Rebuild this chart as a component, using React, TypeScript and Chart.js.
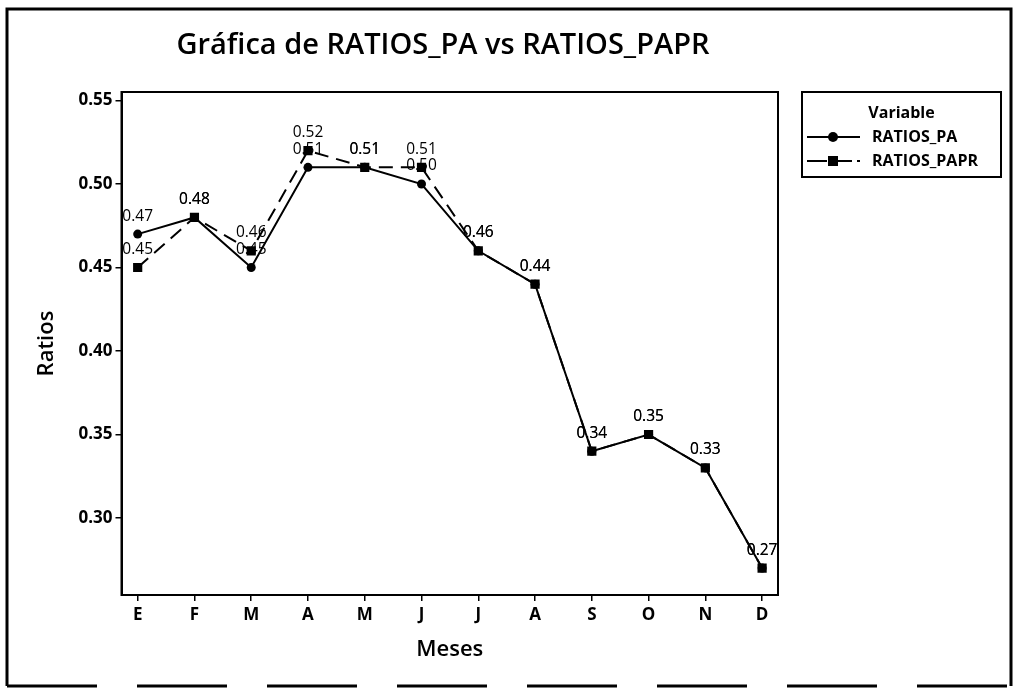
import React, { useEffect, useRef } from "react";
import { Chart, registerables } from "chart.js";

Chart.register(...registerables);

const months = ["E", "F", "M", "A", "M", "J", "J", "A", "S", "O", "N", "D"];
const ratiosPA = [0.47, 0.48, 0.45, 0.51, 0.51, 0.5, 0.46, 0.44, 0.34, 0.35, 0.33, 0.27];
const ratiosPAPR = [0.45, 0.48, 0.46, 0.52, 0.51, 0.51, 0.46, 0.44, 0.34, 0.35, 0.33, 0.27];
const yTicks = [0.3, 0.35, 0.4, 0.45, 0.5, 0.55];
const seriesNames = ["RATIOS_PA", "RATIOS_PAPR"];
const titleText = "Gráfica de RATIOS_PA vs RATIOS_PAPR";
const xTitle = "Meses";
const yTitle = "Ratios";
const legendTitle = "Variable";

const FONT = '"Open Sans", "Noto Sans", "DejaVu Sans", sans-serif';
const W = 1017;
const H = 688;

const decoPlugin = {
  id: "deco",
  beforeDraw(chart: any) {
    const ctx = chart.ctx;
    ctx.save();
    ctx.fillStyle = "#fff";
    ctx.fillRect(0, 0, chart.width, chart.height);
    ctx.restore();
  },
  afterDatasetsDraw(chart: any) {
    const ctx = chart.ctx;
    ctx.save();
    ctx.fillStyle = "#000";
    ctx.font = `500 15.5px ${FONT}`;
    ctx.textAlign = "center";
    ctx.textBaseline = "middle";
    chart.data.datasets.forEach((ds: any, di: number) => {
      const meta = chart.getDatasetMeta(di);
      meta.data.forEach((pt: any, i: number) => {
        const v = ds.data[i].y;
        ctx.fillText(v.toFixed(2), pt.x, pt.y - 18);
      });
    });
    ctx.restore();
  },
  afterDraw(chart: any) {
    const ctx = chart.ctx;
    const a = chart.chartArea;
    ctx.save();
    // plot border
    ctx.strokeStyle = "#000";
    ctx.lineWidth = 2;
    ctx.strokeRect(a.left, a.top, a.right - a.left, a.bottom - a.top);

    // outer frame
    ctx.lineWidth = 3;
    ctx.beginPath();
    ctx.moveTo(7, 686);
    ctx.lineTo(7, 9);
    ctx.lineTo(1011, 9);
    ctx.lineTo(1011, 686);
    ctx.stroke();
    ctx.setLineDash([90, 40]);
    ctx.beginPath();
    ctx.moveTo(7, 686);
    ctx.lineTo(1011, 686);
    ctx.stroke();
    ctx.setLineDash([]);

    ctx.fillStyle = "#000";
    // title
    ctx.font = `600 29px ${FONT}`;
    ctx.textAlign = "center";
    ctx.textBaseline = "middle";
    ctx.fillText(titleText, 443, 46);

    // axis titles
    ctx.font = `600 22px ${FONT}`;
    ctx.fillText(xTitle, (a.left + a.right) / 2, 650);
    ctx.save();
    ctx.translate(47, (a.top + a.bottom) / 2);
    ctx.rotate(-Math.PI / 2);
    ctx.fillText(yTitle, 0, 0);
    ctx.restore();

    // legend
    const lx = 802, ly = 92, lw = 199, lh = 85;
    ctx.lineWidth = 2;
    ctx.strokeRect(lx, ly, lw, lh);
    ctx.font = `700 16px ${FONT}`;
    ctx.fillText(legendTitle, lx + lw / 2, 113);
    const rows = [137, 161];
    rows.forEach((ry, i) => {
      ctx.lineWidth = 2;
      if (i === 1) ctx.setLineDash([20, 5]);
      ctx.beginPath();
      ctx.moveTo(807, ry);
      ctx.lineTo(860, ry);
      ctx.stroke();
      ctx.setLineDash([]);
      if (i === 0) {
        ctx.beginPath();
        ctx.arc(833, ry, 5, 0, Math.PI * 2);
        ctx.fill();
      } else {
        ctx.fillRect(828, ry - 5, 10, 10);
      }
      ctx.textAlign = "left";
      ctx.fillText(seriesNames[i], 872, ry);
      ctx.textAlign = "center";
    });
    ctx.restore();
  },
};

export default function App() {
  const ref = useRef<HTMLCanvasElement | null>(null);
  useEffect(() => {
    document.body.style.margin = "0";
    const canvas = ref.current!;
    const tickFont = { family: FONT, size: 17, weight: 700 as any };
    const chart = new Chart(canvas, {
      type: "line",
      data: {
        datasets: [
          {
            label: seriesNames[0],
            data: ratiosPA.map((v, i) => ({ x: i, y: v })),
            borderColor: "#000",
            backgroundColor: "#000",
            borderWidth: 2,
            pointStyle: "circle",
            pointRadius: 4.5,
            pointBorderWidth: 0,
            tension: 0,
          },
          {
            label: seriesNames[1],
            data: ratiosPAPR.map((v, i) => ({ x: i, y: v })),
            borderColor: "#000",
            backgroundColor: "#000",
            borderWidth: 2,
            borderDash: [14, 8],
            pointStyle: "rect",
            pointRadius: 6.5,
            pointBorderWidth: 0,
            tension: 0,
          },
        ],
      },
      options: {
        responsive: false,
        animation: false,
        events: [],
        layout: { padding: { left: 0, top: 92, right: W - 778, bottom: 0 } },
        plugins: { legend: { display: false }, title: { display: false }, tooltip: { enabled: false } },
        scales: {
          x: {
            type: "linear",
            min: -0.285,
            max: 11.28,
            afterBuildTicks: (s: any) => {
              s.ticks = months.map((_, i) => ({ value: i }));
            },
            afterFit: (s: any) => {
              s.height = H - 595;
            },
            ticks: {
              autoSkip: false,
              maxRotation: 0,
              color: "#000",
              font: tickFont,
              padding: 4,
              callback: (v: any) => months[Number(v)] ?? "",
            },
            grid: { drawOnChartArea: false, drawTicks: true, tickLength: 6, color: "#000", lineWidth: 1.5 },
            border: { display: true, color: "#000", width: 2 },
          },
          y: {
            type: "linear",
            min: 0.2539,
            max: 0.5551,
            afterBuildTicks: (s: any) => {
              s.ticks = yTicks.map((v) => ({ value: v }));
            },
            afterFit: (s: any) => {
              s.width = 121.5;
            },
            ticks: {
              color: "#000",
              font: tickFont,
              padding: 3,
              callback: (v: any) => Number(v).toFixed(2),
            },
            grid: { drawOnChartArea: false, drawTicks: true, tickLength: 6, color: "#000", lineWidth: 1.5 },
            border: { display: true, color: "#000", width: 2 },
          },
        },
      },
      plugins: [decoPlugin],
    });
    return () => chart.destroy();
  }, []);
  return <canvas ref={ref} width={W} height={H} style={{ display: "block" }} />;
}
